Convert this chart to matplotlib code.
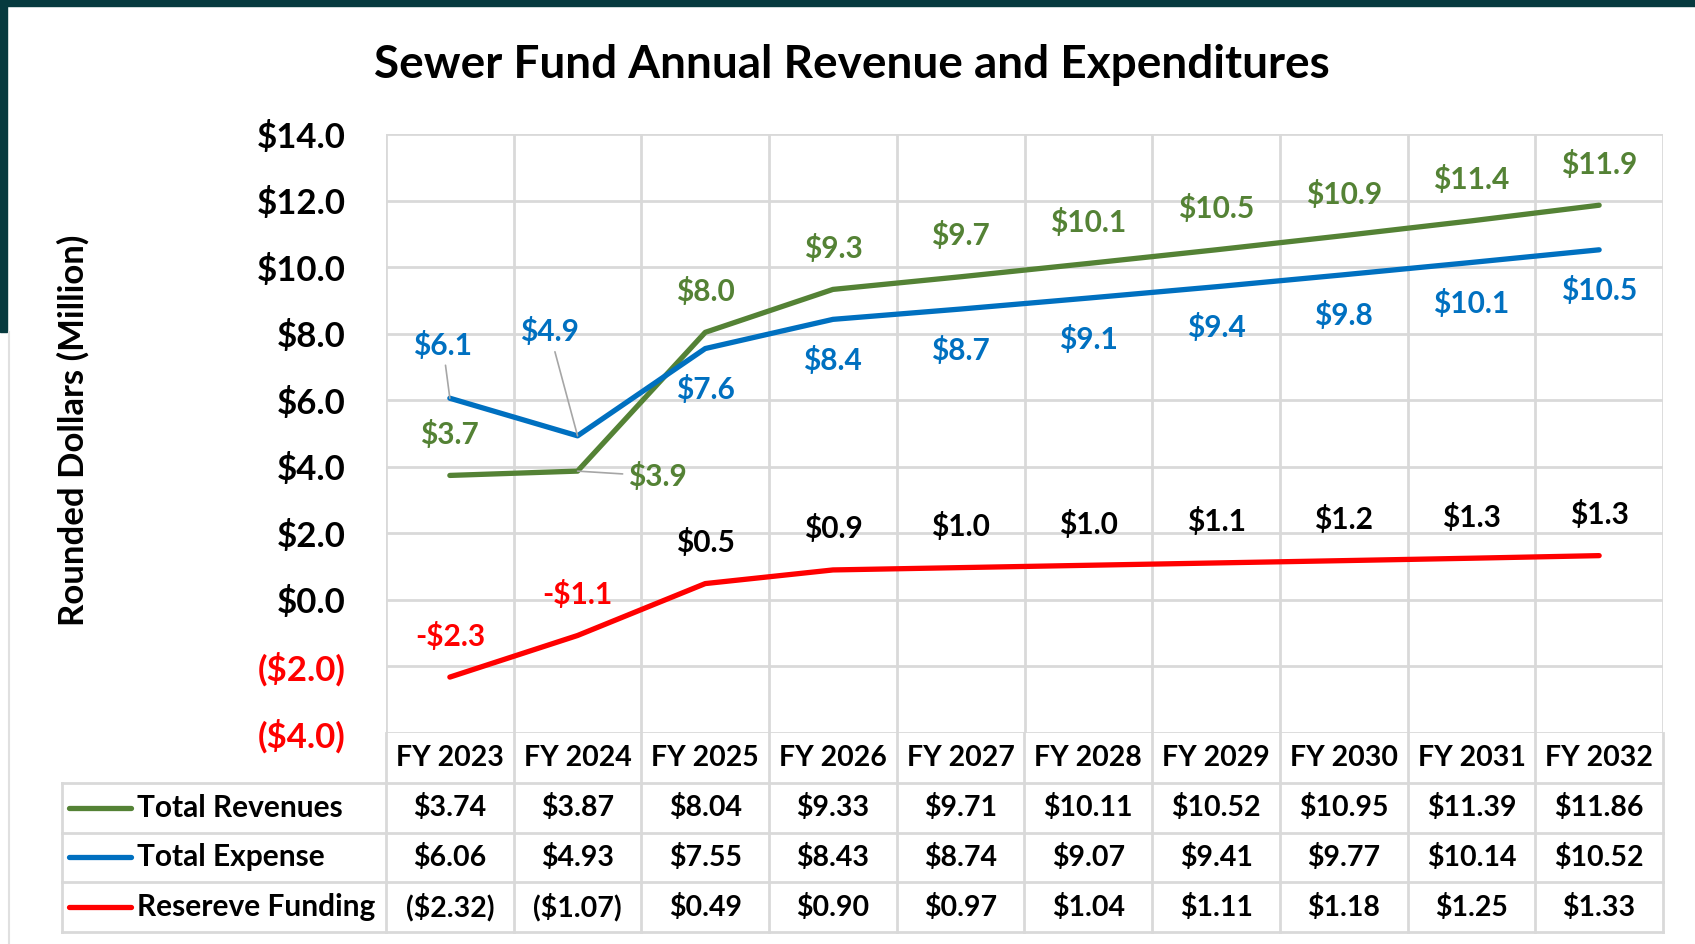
import numpy as np
import matplotlib
matplotlib.use("Agg")
import matplotlib.pyplot as plt
from matplotlib.patches import Rectangle
from matplotlib.lines import Line2D

plt.rcParams['font.family'] = ['Lato', 'DejaVu Sans']
plt.rcParams['font.weight'] = 'bold'

# data ($ million); a few values carry a third decimal so the chart labels
# round the same way as the original ($10.9, $7.6, $1.3)
years = ['FY 2023', 'FY 2024', 'FY 2025', 'FY 2026', 'FY 2027',
         'FY 2028', 'FY 2029', 'FY 2030', 'FY 2031', 'FY 2032']
revenues = [3.74, 3.87, 8.04, 9.33, 9.71, 10.11, 10.52, 10.947, 11.39, 11.86]
expense = [6.06, 4.93, 7.553, 8.43, 8.74, 9.07, 9.41, 9.77, 10.14, 10.52]
reserve = [-2.32, -1.07, 0.49, 0.90, 0.97, 1.04, 1.11, 1.18, 1.252, 1.33]
series_names = ['Total Revenues', 'Total Expense', 'Resereve Funding']
yticks = [-4, -2, 0, 2, 4, 6, 8, 10, 12, 14]

GREEN = '#548235'
BLUE = '#0070C0'
RED = '#FF0000'
GRID = '#d9d9d9'
W, H = 1695, 944

fig = plt.figure(figsize=(W / 100, H / 100), dpi=100)

# slide border bits
fig.patches.append(Rectangle((0, 1 - 6 / H), 1, 6 / H, transform=fig.transFigure,
                             color='#073a3f', zorder=0))
fig.patches.append(Rectangle((0, 1 - 332 / H), 7 / W, 332 / H, transform=fig.transFigure,
                             color='#073a3f', zorder=0))
fig.lines.append(Line2D([9 / W, 9 / W], [0, 1 - 332 / H], transform=fig.transFigure,
                        color='#e0e0e0', lw=1.5))

ax = fig.add_axes([386 / W, 1 - 733 / H, (1663 - 386) / W, (733 - 134) / H])
x = np.arange(len(years))
ax.set_xlim(-0.5, len(years) - 0.5)
ax.set_ylim(-4, 14)
ax.set_yticks(yticks)
ax.set_yticklabels([f'${v:.1f}' if v >= 0 else f'(${-v:.1f})' for v in yticks],
                   fontsize=25, fontweight='bold')
for lab, v in zip(ax.get_yticklabels(), yticks):
    lab.set_color(RED if v < 0 else 'black')
ax.tick_params(axis='y', length=0, pad=29)
ax.set_xticks([])
for s in ax.spines.values():
    s.set_visible(False)
for v in yticks:
    ax.axhline(v, color=GRID, lw=2, zorder=1)
for b in np.arange(-0.5, len(years), 1.0):
    ax.axvline(b, color=GRID, lw=2, zorder=1)

ax.plot(x, revenues, color=GREEN, lw=3.8, zorder=3, solid_capstyle='round')
ax.plot(x, expense, color=BLUE, lw=3.8, zorder=3, solid_capstyle='round')
ax.plot(x, reserve, color=RED, lw=3.8, zorder=3, solid_capstyle='round')

lblkw = dict(textcoords='offset pixels', ha='center', va='center',
             fontsize=21.5, fontweight='bold')
lead = dict(arrowstyle='-', color='#a6a6a6', lw=1.2, shrinkA=2, shrinkB=0)
for i in range(len(years)):
    # revenues
    if i == 1:
        ax.annotate(f'${revenues[i]:.1f}', (x[i], revenues[i]), xytext=(80, -5),
                    color=GREEN, arrowprops=lead, **lblkw)
    else:
        ax.annotate(f'${revenues[i]:.1f}', (x[i], revenues[i]), xytext=(0, 41),
                    color=GREEN, **lblkw)
    # expense
    if i == 0:
        ax.annotate(f'${expense[i]:.1f}', (x[i], expense[i]), xytext=(-7, 53),
                    color=BLUE, arrowprops=lead, **lblkw)
    elif i == 1:
        ax.annotate(f'${expense[i]:.1f}', (x[i], expense[i]), xytext=(-28, 104),
                    color=BLUE, arrowprops=lead, **lblkw)
    else:
        ax.annotate(f'${expense[i]:.1f}', (x[i], expense[i]), xytext=(0, -41),
                    color=BLUE, **lblkw)
    # reserve
    r = reserve[i]
    txt = f'${r:.1f}' if r >= 0 else f'-${-r:.1f}'
    ax.annotate(txt, (x[i], r), xytext=(0, 41),
                color=RED if r < 0 else 'black', **lblkw)

ax.set_ylabel('Rounded Dollars (Million)', fontsize=25, fontweight='bold', labelpad=0)
ax.yaxis.set_label_coords((90 - 386) / (1663 - 386), 0.505)

fig.text(852 / W, 1 - 65 / H, 'Sewer Fund Annual Revenue and Expenditures',
         ha='center', va='center', fontsize=33, fontweight='bold')

# data table under the plot
leg_w = (386 - 62) / ((1663 - 386) / len(years))
tab = fig.add_axes([62 / W, 1 - 932 / H, (1663 - 62) / W, (932 - 733) / H])
tab.set_xlim(-0.5 - leg_w, len(years) - 0.5)
tab.set_ylim(4, 0)
tab.axis('off')
for yy in [1, 2, 3, 4]:
    tab.plot([-0.5 - leg_w, len(years) - 0.5], [yy, yy], color=GRID, lw=2, clip_on=False)
for b in np.arange(-0.5, len(years), 1.0):
    tab.plot([b, b], [0, 4], color=GRID, lw=2, clip_on=False)
tab.plot([-0.5 - leg_w] * 2, [1, 4], color=GRID, lw=2, clip_on=False)

for i, yr in enumerate(years):
    tab.text(x[i], 0.5, yr, ha='center', va='center', fontsize=20.5, fontweight='bold')


def money(v):
    return f'${v:.2f}' if v >= 0 else f'(${-v:.2f})'


unit = (1663 - 386) / len(years)
x0 = -0.5 - leg_w
for row, (name, vals, col) in enumerate(zip(series_names, [revenues, expense, reserve],
                                            [GREEN, BLUE, RED])):
    yy = row + 1.5
    tab.plot([x0 + 7 / unit, x0 + 69 / unit], [yy, yy], color=col, lw=3.8,
             solid_capstyle='round', clip_on=False)
    tab.text(x0 + 75 / unit, yy, name, ha='left', va='center', fontsize=21.5,
             fontweight='bold')
    for i, v in enumerate(vals):
        tab.text(x[i], yy, money(v), ha='center', va='center', fontsize=20.5,
                 fontweight='bold')

fig.savefig('out.png', dpi=100)
